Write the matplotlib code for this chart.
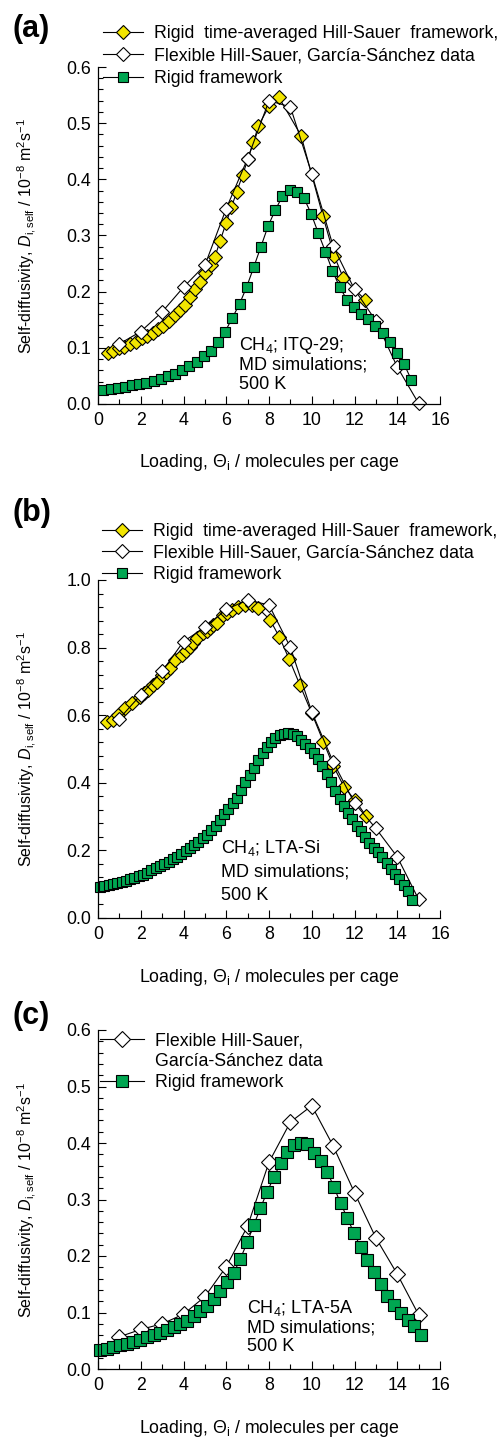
import numpy as np
import matplotlib.pyplot as plt
from matplotlib.lines import Line2D
from matplotlib.ticker import MultipleLocator, FormatStrFormatter

plt.rcParams['font.family'] = ['Liberation Sans', 'DejaVu Sans']
plt.rcParams['mathtext.fontset'] = 'custom'
plt.rcParams['mathtext.rm'] = 'Liberation Sans'
plt.rcParams['mathtext.it'] = 'Liberation Sans:italic'
plt.rcParams['mathtext.bf'] = 'Liberation Sans:bold'

YELLOW = '#F2E500'
GREEN = '#00A651'
FS = 12.8      # ticks, legend, x label
FS_Y = 11.5    # y label
FS_NOTE = 13

# ---- panel (a): CH4 in ITQ-29 ----
a_rigavg_x = [0.48, 0.72, 1.0, 1.23, 1.5, 1.76, 2.04, 2.28, 2.56, 2.79, 3.06, 3.34, 3.6, 3.84,
              4.07, 4.3, 4.54, 4.77, 5.0, 5.27, 5.47, 5.71, 5.99, 6.24, 6.49, 6.77, 7.02, 7.27,
              7.5, 8.01, 8.46, 9.5, 10.52, 11.05, 11.48, 12.49]
a_rigavg_y = [0.091, 0.095, 0.099, 0.102, 0.107, 0.111, 0.117, 0.121, 0.127, 0.133, 0.139, 0.148,
              0.158, 0.167, 0.176, 0.191, 0.204, 0.218, 0.233, 0.247, 0.262, 0.290, 0.322, 0.350,
              0.378, 0.408, 0.437, 0.466, 0.495, 0.531, 0.546, 0.478, 0.335, 0.264, 0.224, 0.186]
a_flex_x = [1, 2, 3, 4, 5, 6, 7, 8, 9, 10, 11, 12, 13, 14, 15]
a_flex_y = [0.107, 0.129, 0.164, 0.208, 0.247, 0.348, 0.437, 0.540, 0.529, 0.410, 0.281, 0.204,
            0.148, 0.066, 0.001]
a_rigid_x = [0.25, 0.59, 0.92, 1.26, 1.59, 1.93, 2.26, 2.6, 2.93, 3.27, 3.6, 3.94, 4.27, 4.61,
             4.94, 5.28, 5.61, 5.95, 6.28, 6.62, 6.95, 7.29, 7.62, 7.96, 8.29, 8.63, 8.96, 9.3,
             9.63, 9.97, 10.3, 10.64, 10.97, 11.31, 11.64, 11.98, 12.31, 12.65, 12.98, 13.32,
             13.65, 13.99, 14.32, 14.66]
a_rigid_y = [0.025, 0.027, 0.029, 0.031, 0.034, 0.035, 0.038, 0.041, 0.044, 0.049, 0.053, 0.061,
             0.068, 0.074, 0.085, 0.095, 0.111, 0.129, 0.153, 0.178, 0.208, 0.244, 0.280, 0.317,
             0.345, 0.370, 0.381, 0.378, 0.367, 0.339, 0.305, 0.271, 0.237, 0.208, 0.186, 0.173,
             0.161, 0.151, 0.139, 0.127, 0.111, 0.091, 0.071, 0.043]

# ---- panel (b): CH4 in LTA-Si ----
b_rigavg_x = [0.41, 0.69, 0.95, 1.26, 1.58, 1.96, 2.15, 2.35, 2.55, 2.74, 2.98, 3.18, 3.37, 3.6,
              3.92, 4.1, 4.3, 4.46, 4.62, 4.93, 5.08, 5.24, 5.4, 5.55, 5.86, 6.05, 6.25, 6.57,
              6.88, 7.19, 7.5, 8.05, 8.48, 8.95, 9.45, 10.0, 10.54, 11.01, 11.51, 12.02, 12.54]
b_rigavg_y = [0.581, 0.586, 0.601, 0.620, 0.635, 0.655, 0.665, 0.675, 0.688, 0.699, 0.719, 0.728,
              0.739, 0.763, 0.778, 0.790, 0.803, 0.815, 0.827, 0.842, 0.850, 0.857, 0.866, 0.874,
              0.896, 0.903, 0.911, 0.921, 0.926, 0.926, 0.916, 0.882, 0.832, 0.765, 0.689, 0.606,
              0.522, 0.450, 0.388, 0.349, 0.302]
b_flex_x = [1, 2, 3, 4, 5, 6, 7, 8, 9, 10, 11, 12, 13, 14, 15]
b_flex_y = [0.590, 0.660, 0.730, 0.818, 0.860, 0.913, 0.941, 0.926, 0.801, 0.610, 0.462, 0.340,
            0.265, 0.181, 0.055]
b_rigid_x = [0.1, 0.3, 0.5, 0.7, 0.9, 1.1, 1.3, 1.5, 1.7, 1.9, 2.1, 2.3, 2.5, 2.7, 2.9, 3.1,
             3.3, 3.5, 3.7, 3.9, 4.1, 4.3, 4.5, 4.7, 4.9, 5.1, 5.3, 5.5, 5.7, 5.9, 6.1, 6.3,
             6.5, 6.7, 6.9, 7.1, 7.3, 7.5, 7.7, 7.9, 8.1, 8.3, 8.5, 8.7, 8.9, 9.1, 9.3, 9.5,
             9.7, 9.9, 10.1, 10.3, 10.5, 10.7, 10.9, 11.1, 11.3, 11.5, 11.7, 11.9, 12.1, 12.3,
             12.5, 12.7, 12.9, 13.1, 13.3, 13.5, 13.7, 13.9, 14.1, 14.3, 14.5, 14.7]
b_rigid_y = [0.093, 0.096, 0.099, 0.101, 0.104, 0.107, 0.110, 0.114, 0.119, 0.124, 0.128, 0.134,
             0.141, 0.148, 0.155, 0.161, 0.167, 0.174, 0.181, 0.188, 0.197, 0.206, 0.215, 0.225,
             0.236, 0.247, 0.259, 0.273, 0.290, 0.307, 0.323, 0.339, 0.355, 0.379, 0.401, 0.424,
             0.445, 0.466, 0.488, 0.507, 0.521, 0.533, 0.540, 0.545, 0.546, 0.544, 0.538, 0.528,
             0.516, 0.503, 0.489, 0.471, 0.450, 0.426, 0.402, 0.377, 0.352, 0.331, 0.311, 0.292,
             0.273, 0.256, 0.240, 0.223, 0.208, 0.194, 0.179, 0.162, 0.145, 0.130, 0.115, 0.099,
             0.080, 0.053]

# ---- panel (c): CH4 in LTA-5A ----
c_flex_x = [1, 2, 3, 4, 5, 6, 7, 8, 9, 10, 11, 12, 13, 14, 15]
c_flex_y = [0.057, 0.070, 0.080, 0.097, 0.128, 0.181, 0.253, 0.366, 0.437, 0.466, 0.395, 0.312,
            0.232, 0.168, 0.096]
c_rigid_x = [0.1, 0.41, 0.72, 1.04, 1.35, 1.66, 1.98, 2.29, 2.6, 2.91, 3.23, 3.54, 3.85, 4.16,
             4.48, 4.79, 5.1, 5.41, 5.73, 6.04, 6.35, 6.66, 6.98, 7.29, 7.6, 7.91, 8.23, 8.54,
             8.85, 9.16, 9.48, 9.79, 10.1, 10.41, 10.73, 11.04, 11.35, 11.66, 11.98, 12.29,
             12.6, 12.91, 13.23, 13.54, 13.85, 14.16, 14.48, 14.79, 15.1]
c_rigid_y = [0.034, 0.036, 0.039, 0.042, 0.045, 0.048, 0.052, 0.056, 0.060, 0.064, 0.069, 0.074,
             0.079, 0.085, 0.093, 0.102, 0.112, 0.124, 0.138, 0.154, 0.170, 0.195, 0.224, 0.255,
             0.285, 0.313, 0.340, 0.364, 0.384, 0.396, 0.400, 0.398, 0.383, 0.368, 0.349, 0.322,
             0.293, 0.268, 0.240, 0.216, 0.193, 0.172, 0.150, 0.130, 0.113, 0.100, 0.087, 0.076,
             0.060]

lab_rigavg = 'Rigid  time-averaged Hill-Sauer  framework,'
lab_flex = 'Flexible Hill-Sauer, García-Sánchez data'
lab_rigid = 'Rigid framework'

W, H = 503, 1437
fig = plt.figure(figsize=(W / 100, H / 100), dpi=100)


def make_ax(top_px, bot_px, ymax, ymajor, yminor):
    ax = fig.add_axes([98 / W, 1 - bot_px / H, 342 / W, (bot_px - top_px) / H])
    ax.set_xlim(0, 16)
    ax.set_ylim(0, ymax)
    ax.xaxis.set_major_locator(MultipleLocator(2))
    ax.xaxis.set_minor_locator(MultipleLocator(1))
    ax.yaxis.set_major_locator(MultipleLocator(ymajor))
    ax.yaxis.set_minor_locator(MultipleLocator(yminor))
    ax.yaxis.set_major_formatter(FormatStrFormatter('%.1f'))
    for s in ['top', 'right']:
        ax.spines[s].set_visible(False)
    for s in ['left', 'bottom']:
        ax.spines[s].set_linewidth(0.9)
    ax.tick_params(which='both', direction='in', labelsize=FS, width=0.8)
    ax.tick_params(axis='x', pad=6)
    ax.tick_params(axis='y', pad=5)
    ax.tick_params(which='major', length=5.5)
    ax.tick_params(which='minor', length=3.5)
    ax.set_xlabel('Loading, Θ$_\\mathrm{i}$ / molecules per cage', fontsize=FS)
    ax.xaxis.set_label_coords(0.5, -0.175)
    ax.xaxis.label.set_va('center')
    ax.set_ylabel('Self-diffusivity, $D_\\mathrm{i,self}$ / 10$^{-8}$ m$^2$s$^{-1}$', fontsize=FS_Y)
    ax.yaxis.set_label_coords(-0.175, 0.5)
    return ax


def series(ax, x, y, marker, face, ms):
    ln, = ax.plot(x, y, color='black', lw=0.8, marker=marker, ms=ms, mfc=face,
                  mec='black', mew=0.8, clip_on=False)
    return ln


def note(ax, x, ys, lines):
    for yy, t in zip(ys, lines):
        ax.text(x, yy, t, fontsize=FS_NOTE, ha='left', va='center')


def legend(ax, handles, labels, left_px, top_px, hl, spacing):
    ax.legend(handles, labels, loc='upper left',
              bbox_to_anchor=(left_px / W, 1 - top_px / H), bbox_transform=fig.transFigure,
              frameon=False, fontsize=FS, borderpad=0, borderaxespad=0,
              handlelength=hl, handletextpad=0.6, labelspacing=spacing)


# (a)
ax = make_ax(67, 404, 0.6, 0.1, 0.02)
h1 = series(ax, a_rigavg_x, a_rigavg_y, 'D', YELLOW, 7.6)
h2 = series(ax, a_flex_x, a_flex_y, 'D', 'white', 7.6)
h3 = series(ax, a_rigid_x, a_rigid_y, 's', GREEN, 7.0)
note(ax, 6.6, [0.105, 0.069, 0.034], ['CH$_4$; ITQ-29;', 'MD simulations;', '500 K'])
legend(ax, [h1, h2, h3], [lab_rigavg, lab_flex, lab_rigid], 103, 25, 2.25, 0.32)
fig.text(12 / W, 1 - 29 / H, '(a)', fontsize=22, fontweight='bold', ha='left', va='center')

# (b)
ax = make_ax(580, 918, 1.0, 0.2, 0.04)
h1 = series(ax, b_rigavg_x, b_rigavg_y, 'D', YELLOW, 7.6)
h2 = series(ax, b_flex_x, b_flex_y, 'D', 'white', 7.6)
h3 = series(ax, b_rigid_x, b_rigid_y, 's', GREEN, 7.0)
note(ax, 5.76, [0.207, 0.135, 0.068], ['CH$_4$; LTA-Si', 'MD simulations;', '500 K'])
legend(ax, [h1, h2, h3], [lab_rigavg, lab_flex, lab_rigid], 102, 523, 2.25, 0.26)
fig.text(12 / W, 1 - 513 / H, '(b)', fontsize=22, fontweight='bold', ha='left', va='center')

# (c)
ax = make_ax(1030, 1369, 0.6, 0.1, 0.02)
h2 = series(ax, c_flex_x, c_flex_y, 'D', 'white', 8.2)
h3 = series(ax, c_rigid_x, c_rigid_y, 's', GREEN, 9.2)
note(ax, 6.97, [0.108, 0.073, 0.039], ['CH$_4$; LTA-5A', 'MD simulations;', '500 K'])
blank = Line2D([], [], lw=0, marker=None)
legend(ax, [h2, blank, h3], ['Flexible Hill-Sauer,', 'García-Sánchez data', lab_rigid],
       100, 1032, 2.5, 0.22)
fig.text(12 / W, 1 - 1016 / H, '(c)', fontsize=22, fontweight='bold', ha='left', va='center')

fig.savefig('out.png', dpi=100)
